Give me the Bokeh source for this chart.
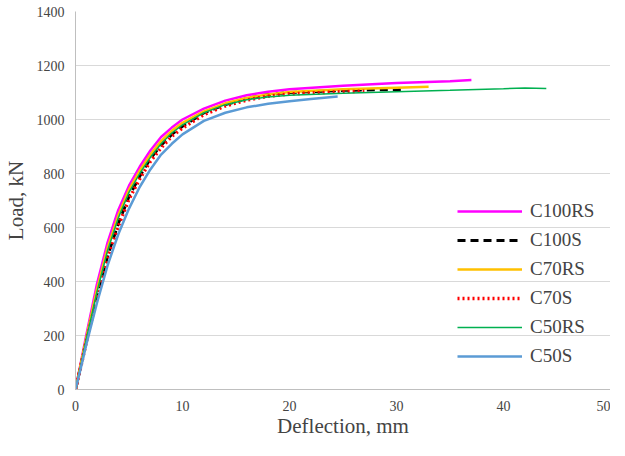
from bokeh.plotting import figure
from bokeh.embed import file_html
from bokeh.resources import INLINE
from bokeh.models import Legend, LegendItem, FixedTicker

x100rs = [0, 0.5, 1, 2, 3, 4, 5, 6, 7, 8, 9, 10, 12, 14, 16, 18, 20, 25, 30, 35, 37]
y100rs = [0, 100, 200, 390, 545, 665, 755, 825, 885, 935, 970, 1000, 1040, 1070, 1090, 1103, 1112, 1125, 1135, 1142, 1146]
x100s = [0, 0.5, 1, 2, 3, 4, 5, 6, 7, 8, 9, 10, 12, 14, 16, 18, 20, 25, 30, 30.8]
y100s = [0, 90, 180, 345, 495, 615, 715, 790, 855, 905, 945, 975, 1025, 1055, 1078, 1092, 1100, 1108, 1111, 1112]
x70rs = [0, 0.5, 1, 2, 3, 4, 5, 6, 7, 8, 9, 10, 12, 14, 16, 18, 20, 25, 30, 33]
y70rs = [0, 95, 190, 370, 525, 645, 740, 810, 870, 920, 958, 988, 1030, 1060, 1080, 1093, 1102, 1112, 1118, 1121]
x70s = [0, 0.5, 1, 2, 3, 4, 5, 6, 7, 8, 9, 10, 12, 14, 16, 18, 20, 25, 27]
y70s = [0, 85, 175, 340, 490, 605, 705, 780, 845, 895, 938, 968, 1018, 1050, 1072, 1086, 1095, 1103, 1105]
x50rs = [0, 0.5, 1, 2, 3, 4, 5, 6, 7, 8, 9, 10, 12, 14, 16, 18, 20, 25, 30, 35, 40, 42, 44]
y50rs = [0, 90, 185, 360, 515, 635, 730, 800, 860, 910, 950, 980, 1025, 1055, 1073, 1083, 1090, 1097, 1103, 1108, 1114, 1117, 1115]
x50s = [0, 0.5, 1, 2, 3, 4, 5, 6, 7, 8, 9, 10, 12, 14, 16, 18, 20, 22, 24.5]
y50s = [0, 80, 165, 320, 460, 575, 670, 750, 815, 870, 910, 945, 995, 1025, 1045, 1058, 1068, 1076, 1085]

p = figure(width=610, height=440, output_backend="svg", toolbar_location=None,
           x_range=(0, 50), y_range=(0, 1400), min_border_left=65, min_border_top=11,
           min_border_right=0, min_border_bottom=36)
p.outline_line_color = None
p.xgrid.grid_line_color = None
p.ygrid.grid_line_color = "#d9d9d9"
p.xaxis.ticker = FixedTicker(ticks=[0, 10, 20, 30, 40, 50])
p.yaxis.ticker = FixedTicker(ticks=list(range(0, 1401, 200)))
for ax in (p.xaxis, p.yaxis):
    ax.major_label_text_font = "Liberation Serif"
    ax.major_label_text_font_size = "14px"
    ax.axis_label_text_font = "Liberation Serif"
    ax.axis_label_text_font_size = "21px"
    ax.axis_label_text_font_style = "normal"
    ax.minor_tick_line_color = None
    ax.major_tick_line_color = None
    ax.axis_line_color = "#bfbfbf"
p.xaxis.axis_label = "Deflection, mm"
p.yaxis.axis_label = "Load, kN"
p.xaxis.axis_label_standoff = 0
p.yaxis.axis_label_standoff = 6

r1 = p.line(x100rs, y100rs, line_color="#ff00ff", line_width=2.5)
r2 = p.line(x100s, y100s, line_color="black", line_width=3, line_dash="8 5")
r3 = p.line(x70rs, y70rs, line_color="#ffc000", line_width=2.5)
r4 = p.line(x70s, y70s, line_color="red", line_width=3.5, line_dash="2 3")
r5 = p.line(x50rs, y50rs, line_color="#00b050", line_width=1.5)
r6 = p.line(x50s, y50s, line_color="#5b9bd5", line_width=2.5)

legend = Legend(items=[LegendItem(label=l, renderers=[r]) for l, r in
                       [("C100RS", r1), ("C100S", r2), ("C70RS", r3), ("C70S", r4), ("C50RS", r5), ("C50S", r6)]],
                location=(382, 22), border_line_color=None, background_fill_alpha=0,
                label_text_font="Liberation Serif", label_text_font_size="19px",
                glyph_width=65, spacing=7, label_standoff=8)
p.add_layout(legend)

open("out.html", "w").write(file_html(p, INLINE))
